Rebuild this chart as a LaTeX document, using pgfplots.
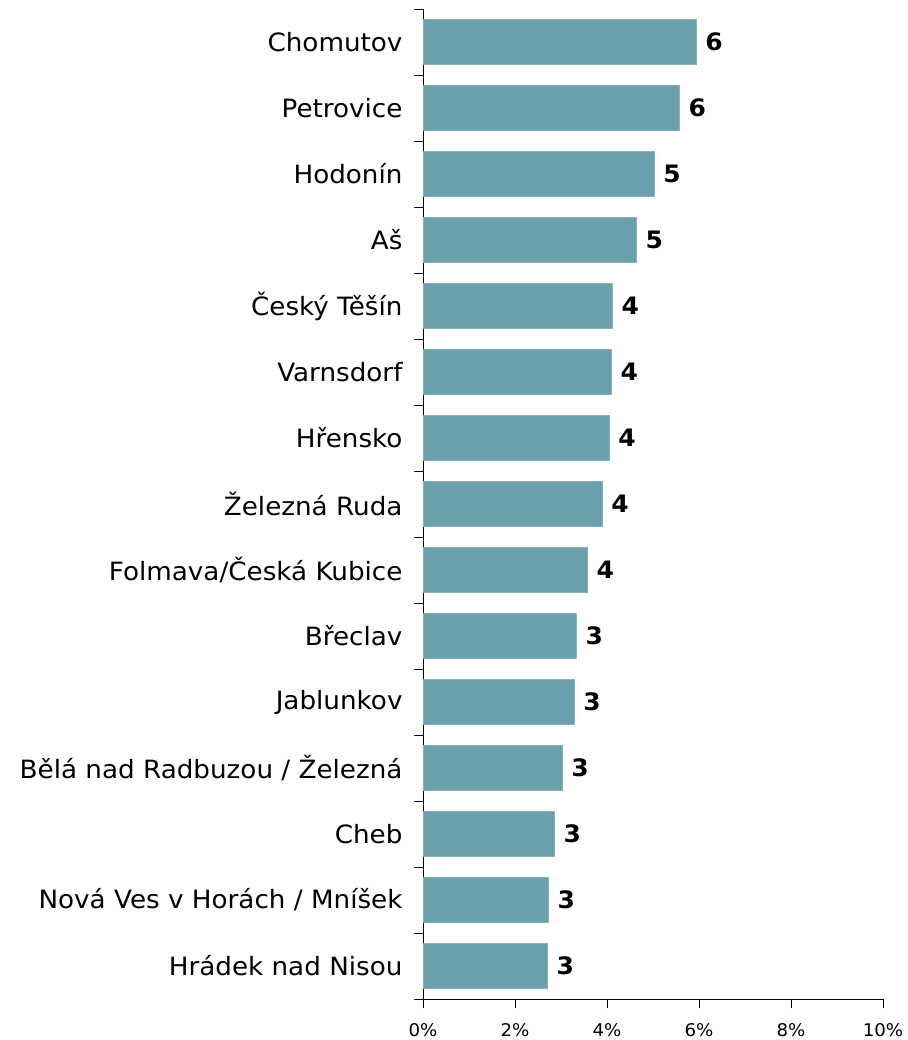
\documentclass[border=0pt]{standalone}
\usepackage{pgfplots}
\pgfplotsset{compat=1.18}
\usepackage{fontspec}
\setmainfont{DejaVu Sans}[FakeStretch=1.04]
\definecolor{barc}{RGB}{106,159,172}
\begin{document}
\begin{tikzpicture}
\path[use as bounding box] (0,0) rectangle (908bp,1040bp);
\begin{axis}[
  at={(423bp,41bp)}, anchor=south west,
  scale only axis, width=460bp, height=990bp,
  xmin=0, xmax=10, ymin=-0.5, ymax=14.5, y dir=reverse,
  axis x line*=bottom, axis y line*=left,
  xtick={0,2,4,6,8,10},
  minor xtick={0,2,4,6,8,10},
  xticklabel={\pgfmathprintnumber{\tick}\%},
  xticklabel style={font=\fontsize{17.5bp}{20bp}\selectfont, yshift=-21bp},
  x tick label style={/pgf/number format/assume math mode=true},
  ytick={0,...,14},
  yticklabels={Chomutov,Petrovice,Hodonín,Aš,Český Těšín,Varnsdorf,Hřensko,Železná Ruda,Folmava/Česká Kubice,Břeclav,Jablunkov,Bělá nad Radbuzou / Železná,Cheb,Nová Ves v Horách / Mníšek,Hrádek nad Nisou},
  yticklabel style={font=\fontsize{25.2bp}{28bp}\selectfont, xshift=-17bp},
  minor ytick={-0.5,0.5,...,14.5},
  tick align=outside,
  major tick length=0pt,
  minor tick length=9bp,
  tick style={black, line width=0.8bp},
  axis line style={black, line width=0.8bp},
  xbar, bar width=45bp,
  point meta=explicit symbolic,
  nodes near coords,
  nodes near coords style={font=\bfseries\fontsize{24bp}{26bp}\selectfont, anchor=west, xshift=6bp},
  clip=false,
]
\addplot[fill=barc, draw=barc!80!white] coordinates {
(5.93,0) [6]
(5.57,1) [6]
(5.02,2) [5]
(4.63,3) [5]
(4.11,4) [4]
(4.09,5) [4]
(4.04,6) [4]
(3.89,7) [4]
(3.57,8) [4]
(3.33,9) [3]
(3.28,10) [3]
(3.02,11) [3]
(2.85,12) [3]
(2.72,13) [3]
(2.70,14) [3]
};
\end{axis}
\end{tikzpicture}
\end{document}
